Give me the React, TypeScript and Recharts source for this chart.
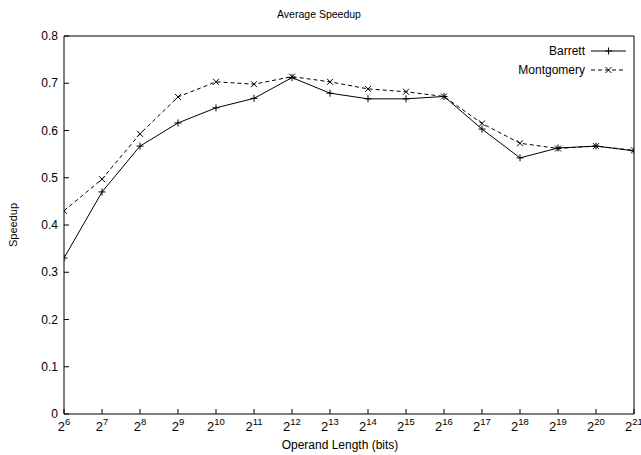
import React from 'react';
import { LineChart, Line, XAxis, YAxis, ReferenceLine } from 'recharts';

const exponents = [6, 7, 8, 9, 10, 11, 12, 13, 14, 15, 16, 17, 18, 19, 20, 21];
const barrett = [0.33, 0.47, 0.567, 0.616, 0.648, 0.668, 0.712, 0.679, 0.667, 0.667, 0.672, 0.603, 0.542, 0.563, 0.567, 0.557];
const montgomery = [0.43, 0.497, 0.593, 0.671, 0.703, 0.698, 0.714, 0.703, 0.688, 0.682, 0.672, 0.615, 0.573, 0.562, 0.567, 0.558];
const yTicks = [0, 0.1, 0.2, 0.3, 0.4, 0.5, 0.6, 0.7, 0.8];
const seriesNames = ['Barrett', 'Montgomery'];

const data = exponents.map((e, i) => ({ exp: e, barrett: barrett[i], montgomery: montgomery[i] }));

const FONT = 'Liberation Sans, Arial, Helvetica, sans-serif';

const XTick = (props: any) => {
  const { x, y, payload } = props;
  return (
    <g>
      <line x1={x} x2={x} y1={y} y2={y - 5} stroke="#000" strokeWidth={1} />
      <text x={x} y={y + 17} textAnchor="middle" fontFamily={FONT} fontSize={13} fill="#000">
        2<tspan dy={-6} fontSize={9.5}>{payload.value}</tspan>
      </text>
    </g>
  );
};

const YTick = (props: any) => {
  const { x, y, payload } = props;
  return (
    <g>
      <line x1={x} x2={x + 5} y1={y} y2={y} stroke="#000" strokeWidth={1} />
      <text x={x - 6} y={y + 4} textAnchor="end" fontFamily={FONT} fontSize={12} fill="#000">
        {payload.value === 0 ? '0' : payload.value.toFixed(1)}
      </text>
    </g>
  );
};

const PlusDot = (props: any) => {
  const { cx, cy } = props;
  if (cx == null || cy == null) return null;
  return (
    <g>
      <line x1={cx - 3.5} x2={cx + 3.5} y1={cy} y2={cy} stroke="#000" strokeWidth={1} />
      <line x1={cx} x2={cx} y1={cy - 3.5} y2={cy + 3.5} stroke="#000" strokeWidth={1} />
    </g>
  );
};

const CrossDot = (props: any) => {
  const { cx, cy } = props;
  if (cx == null || cy == null) return null;
  return (
    <g>
      <line x1={cx - 3} x2={cx + 3} y1={cy - 3} y2={cy + 3} stroke="#000" strokeWidth={1} />
      <line x1={cx - 3} x2={cx + 3} y1={cy + 3} y2={cy - 3} stroke="#000" strokeWidth={1} />
    </g>
  );
};

export default function App() {
  return (
    <div style={{ position: 'absolute', left: 0, top: 0, width: 641, height: 455, background: '#fff' }}>
      <LineChart width={641} height={455} data={data} margin={{ top: 36, right: 7, bottom: 0, left: 0 }}>
        <XAxis
          dataKey="exp"
          type="number"
          domain={[6, 21]}
          ticks={exponents}
          interval={0}
          tick={<XTick />}
          tickLine={false}
          tickSize={0}
          tickMargin={0}
          height={41}
          axisLine={{ stroke: '#000', strokeWidth: 1 }}
          allowDataOverflow
        />
        <YAxis
          domain={[0, 0.8]}
          ticks={yTicks}
          interval={0}
          tick={<YTick />}
          tickLine={false}
          tickSize={0}
          tickMargin={0}
          width={64}
          axisLine={{ stroke: '#000', strokeWidth: 1 }}
        />
        <ReferenceLine y={0.8} stroke="#000" strokeWidth={1} ifOverflow="visible" />
        <ReferenceLine x={21} stroke="#000" strokeWidth={1} ifOverflow="visible" />
        <Line dataKey="barrett" name={seriesNames[0]} stroke="#000" strokeWidth={1} dot={<PlusDot />} activeDot={false} isAnimationActive={false} />
        <Line dataKey="montgomery" name={seriesNames[1]} stroke="#000" strokeWidth={1} strokeDasharray="4 3" dot={<CrossDot />} activeDot={false} isAnimationActive={false} />
        <text x={319} y={18} textAnchor="middle" fontFamily={FONT} fontSize={10.5} fill="#000">Average Speedup</text>
        <text x={17} y={225} textAnchor="middle" fontFamily={FONT} fontSize={11} fill="#000" transform="rotate(-90 17 225)">Speedup</text>
        <text x={340} y={449} textAnchor="middle" fontFamily={FONT} fontSize={12} fill="#000">Operand Length (bits)</text>
        <g>
          <text x={585} y={55} textAnchor="end" fontFamily={FONT} fontSize={12} fill="#000">{seriesNames[0]}</text>
          <line x1={591} x2={626} y1={51} y2={51} stroke="#000" strokeWidth={1} />
          <line x1={605} x2={612} y1={51} y2={51} stroke="#000" />
          <line x1={608.5} x2={608.5} y1={47.5} y2={54.5} stroke="#000" />
          <text x={585} y={74} textAnchor="end" fontFamily={FONT} fontSize={12} fill="#000">{seriesNames[1]}</text>
          <line x1={591} x2={626} y1={70} y2={70} stroke="#000" strokeWidth={1} strokeDasharray="4 3" />
          <line x1={605.5} x2={611.5} y1={67} y2={73} stroke="#000" />
          <line x1={605.5} x2={611.5} y1={73} y2={67} stroke="#000" />
        </g>
      </LineChart>
    </div>
  );
}
